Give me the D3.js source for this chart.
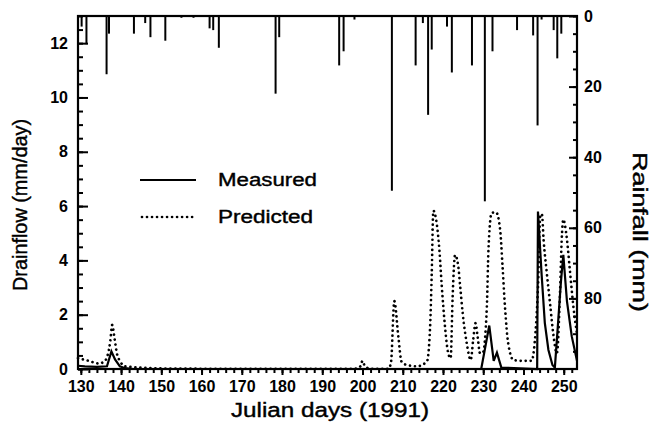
<!DOCTYPE html>
<html>
<head>
<meta charset="utf-8">
<script src="https://cdn.jsdelivr.net/npm/d3@7"></script>
<style>
  html, body { margin: 0; padding: 0; background: #fff; }
  svg { display: block; }
  text { font-family: "Liberation Sans", Arial, Helvetica, sans-serif; fill: #000; }
  .heavy { stroke: #000; stroke-width: 0.4px; }
</style>
</head>
<body>
<svg id="chart" width="653" height="440"></svg>
<script>
// ---- data ----
const xTicks = [130, 140, 150, 160, 170, 180, 190, 200, 210, 220, 230, 240, 250];
const leftTicks = [0, 2, 4, 6, 8, 10, 12];
const rightTicks = [0, 20, 40, 60, 80];

const measuredDays = [129.3, 131, 134, 136.5, 137.6, 138.5, 139.7, 141, 143, 229.5, 231.5, 232.6, 233.4, 234.5, 243.4, 243.6, 244.5, 245.3, 246.2, 247.2, 247.8, 248.5, 249.3, 249.9, 250.8, 252, 253.3];
const measuredFlow = [0.12, 0.1, 0.08, 0.1, 0.65, 0.35, 0.1, 0.03, 0, 0, 1.6, 0.3, 0.6, 0.05, 0, 5.8, 3.5, 1.7, 0.7, 0.15, 0.05, 1.5, 3.2, 4.2, 2.5, 1.2, 0.3];

const predictedDays = [129.3, 132, 134.5, 136, 137.3, 137.8, 138.4, 139, 139.7, 141, 145, 150, 160, 170, 180, 190, 198, 199.5, 200, 200.6, 202, 206.5, 207.1, 207.9, 208.9, 209.7, 211, 213.5, 216, 216.8, 217.2, 217.6, 218.4, 219.1, 219.7, 220.5, 221.3, 221.9, 222.4, 223, 223.8, 224.2, 224.9, 225.9, 226.9, 227.5, 228.1, 228.6, 229.2, 229.9, 230.9, 231.3, 232.1, 233.2, 234.2, 234.8, 235.4, 236.2, 237.5, 240, 242, 242.8, 243.6, 244.2, 244.6, 245, 245.8, 246.6, 247.4, 248.3, 249.1, 249.5, 249.9, 250.7, 251.6, 252.4, 253.3];
const predictedFlow = [0.4, 0.3, 0.2, 0.3, 1.0, 1.62, 1.1, 0.55, 0.3, 0.1, 0.05, 0.02, 0.01, 0.01, 0.01, 0.01, 0.01, 0.1, 0.3, 0.1, 0.01, 0.01, 0.27, 2.5, 1.2, 0.27, 0.15, 0.1, 0.27, 1.56, 3.5, 5.83, 5.4, 4.4, 3.04, 1.56, 0.58, 0.4, 2.67, 4.2, 3.78, 3.16, 2.05, 0.95, 0.33, 1.07, 1.69, 1.2, 0.58, 0.6, 2.3, 4.4, 5.75, 5.77, 5.13, 3.78, 2.3, 0.95, 0.33, 0.3, 0.3, 1.0, 3.0, 5.7, 5.68, 4.76, 3.53, 2.42, 1.3, 0.58, 2.9, 4.76, 5.5, 4.9, 3.53, 2.3, 1.3];

const rainDays = [130.2, 131.4, 136.4, 137.0, 143.2, 146, 147.3, 151, 155, 158, 162, 162.9, 164.3, 178.4, 179.3, 194.2, 195.3, 198, 207.3, 213.2, 215, 216.3, 217.2, 221, 222.2, 227.2, 230.4, 232.3, 238.4, 242.4, 243.5, 244.5, 247.5, 248.4, 249.4];
const rainMm = [3, 8, 16.5, 5, 5, 2, 6, 7, 0.5, 0.5, 3.5, 4, 9, 22, 6, 14, 10, 1, 49.5, 14, 2, 28, 9.5, 3, 16, 14, 52.5, 10, 4, 5.5, 31, 1, 4, 12, 5];

const legendLabels = ["Measured", "Predicted"];

// ---- layout ----
const svg = d3.select("#chart");
const L = 78, R = 577, T = 16, B = 369;

const x = d3.scaleLinear().domain([129.3, 253.3]).range([L, R]);
const yFlow = d3.scaleLinear().domain([0, 13]).range([B, T]);
const yRain = d3.scaleLinear().domain([0, 100]).range([T, B]);

// rainfall bars
svg.append("g").selectAll("line").data(rainDays).join("line")
  .attr("x1", d => x(d)).attr("x2", d => x(d))
  .attr("y1", yRain(0)).attr("y2", (d, i) => yRain(rainMm[i]))
  .attr("stroke", "#000").attr("stroke-width", 2);

// lines
const meas = measuredDays.map((d, i) => [d, measuredFlow[i]]);
const pred = predictedDays.map((d, i) => [d, predictedFlow[i]]);

svg.append("path").datum(pred)
  .attr("d", d3.line().x(d => x(d[0])).y(d => yFlow(d[1])).curve(d3.curveMonotoneX))
  .attr("fill", "none").attr("stroke", "#000").attr("stroke-width", 2.7)
  .attr("stroke-linecap", "round").attr("stroke-dasharray", "0.01 5");

svg.append("path").datum(meas)
  .attr("d", d3.line().x(d => x(d[0])).y(d => yFlow(d[1])))
  .attr("fill", "none").attr("stroke", "#000").attr("stroke-width", 2.2)
  .attr("stroke-linejoin", "miter");

// axes
const bottomMinor = d3.range(130, 254, 2);
const gB = svg.append("g").attr("transform", `translate(0,${B})`)
  .call(d3.axisBottom(x).tickValues(bottomMinor).tickSize(4).tickFormat(""));
const gB2 = svg.append("g").attr("transform", `translate(0,${B})`)
  .call(d3.axisBottom(x).tickValues(xTicks).tickSize(6).tickPadding(6).tickFormat(d3.format("d")));

const gL = svg.append("g").attr("transform", `translate(${L},0)`)
  .call(d3.axisRight(yFlow).tickValues(d3.range(0, 13.01, 0.5)).tickSize(5).tickFormat(""));
const gL2 = svg.append("g").attr("transform", `translate(${L},0)`)
  .call(d3.axisRight(yFlow).tickValues(leftTicks).tickSize(10).tickFormat(""));
svg.append("g").selectAll("text").data(leftTicks).join("text")
  .attr("x", L - 10).attr("y", d => yFlow(d)).attr("dy", "0.35em")
  .attr("text-anchor", "end").attr("font-size", 16).attr("font-weight", "bold")
  .text(d => d);

const gR = svg.append("g").attr("transform", `translate(${R},0)`)
  .call(d3.axisLeft(yRain).tickValues(d3.range(0, 100, 5)).tickSize(4).tickFormat(""));
const gR2 = svg.append("g").attr("transform", `translate(${R},0)`)
  .call(d3.axisLeft(yRain).tickValues(rightTicks).tickSize(8).tickFormat(""));
svg.append("g").selectAll("text").data(rightTicks).join("text")
  .attr("x", R + 7).attr("y", d => yRain(d)).attr("dy", "0.35em")
  .attr("text-anchor", "start").attr("font-size", 16).attr("font-weight", "bold")
  .text(d => d);

[gB, gB2, gL, gL2, gR, gR2].forEach(g => {
  g.select(".domain").remove();
  g.selectAll(".tick line").attr("stroke", "#000").attr("stroke-width", 2);
});
gB2.selectAll(".tick text").attr("font-size", 16).attr("font-weight", "bold")
  .attr("font-family", "Liberation Sans, Arial, sans-serif").attr("fill", "#000");

// frame
svg.append("rect").attr("x", L).attr("y", T).attr("width", R - L).attr("height", B - T)
  .attr("fill", "none").attr("stroke", "#000").attr("stroke-width", 2.2);

// titles
svg.append("text").attr("class", "heavy").attr("x", 330).attr("y", 417).attr("text-anchor", "middle")
  .attr("font-size", 20).attr("textLength", 198).attr("lengthAdjust", "spacingAndGlyphs")
  .text("Julian days (1991)");
svg.append("text").attr("class", "heavy").attr("transform", "translate(27,205) rotate(-90)").attr("text-anchor", "middle")
  .attr("font-size", 20).attr("textLength", 172).attr("lengthAdjust", "spacingAndGlyphs")
  .text("Drainflow (mm/day)");
svg.append("text").attr("class", "heavy").attr("transform", "translate(633,232) rotate(90)").attr("text-anchor", "middle")
  .attr("font-size", 20).attr("textLength", 160).attr("lengthAdjust", "spacingAndGlyphs")
  .text("Rainfall  (mm)");

// legend
const legY = [180, 217];
svg.append("line").attr("x1", 140).attr("x2", 196).attr("y1", legY[0]).attr("y2", legY[0])
  .attr("stroke", "#000").attr("stroke-width", 2.2);
svg.append("line").attr("x1", 142).attr("x2", 196).attr("y1", legY[1]).attr("y2", legY[1])
  .attr("stroke", "#000").attr("stroke-width", 2.7).attr("stroke-linecap", "round")
  .attr("stroke-dasharray", "0.01 5");
svg.append("g").selectAll("text").data(legendLabels).join("text")
  .attr("class", "heavy")
  .attr("x", 218).attr("y", (d, i) => legY[i]).attr("dy", "0.35em")
  .attr("font-size", 18).attr("textLength", (d, i) => i === 0 ? 99 : 95)
  .attr("lengthAdjust", "spacingAndGlyphs")
  .text(d => d);
</script>
</body>
</html>
